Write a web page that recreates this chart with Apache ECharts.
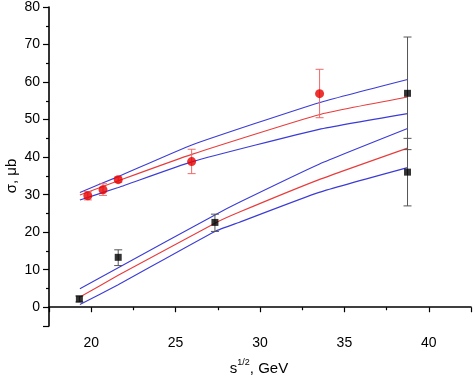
<!DOCTYPE html>
<html><head><meta charset="utf-8">
<script src="https://cdn.jsdelivr.net/npm/echarts@6/dist/echarts.min.js"></script>
<style>html,body{margin:0;padding:0;background:#fff}#c{width:474px;height:377px}</style>
</head><body><div id="c"></div>
<script>
// Red circles: x, y, lower, upper
const redX = [19.8, 20.7, 21.6, 25.95, 33.53];
const redY = [29.7, 31.3, 34.0, 38.8, 56.9];
const redLo = [28.6, 29.8, 33.3, 35.6, 50.5];
const redHi = [30.8, 32.9, 34.7, 42.1, 63.4];
// Black squares
const blkX = [19.3, 21.6, 27.33, 38.74, 38.74];
const blkY = [2.2, 13.3, 22.6, 57.0, 36.0];
const blkLo = [1.4, 11.1, 20.2, 42.0, 27.0];
const blkHi = [3.0, 15.3, 24.8, 72.0, 45.0];
// Upper band curves
const upX = [19.33, 21.6, 26.0, 33.5, 38.74];
const upHigh = [30.6, 34.8, 43.3, 54.5, 60.7];
const upMid = [29.9, 33.7, 40.8, 51.3, 56.0];
const upLow = [28.6, 31.9, 38.8, 47.4, 51.6];
// Lower band curves
const lowX = [19.33, 21.6, 27.33, 28.75, 33.5, 38.74];
const lowHigh = [4.9, 10.5, 24.6, 27.9, 38.1, 47.6];
const lowMid = [2.7, 8.5, 22.4, 25.3, 34.0, 42.4];
const lowLow = [0.7, 6.0, 20.2, 22.6, 30.6, 37.2];

const zip = (xs, ys) => xs.map((x, i) => [x, ys[i]]);
const BLUE = '#3b3bd6', RED = '#e83c3c';

function errRender(color) {
  return function (params, api) {
    const x = api.value(0), lo = api.value(2), hi = api.value(3);
    const p1 = api.coord([x, lo]), p2 = api.coord([x, hi]);
    const w = 4, st = {stroke: color, lineWidth: 1};
    return {type: 'group', children: [
      {type: 'line', shape: {x1: p1[0], y1: p1[1], x2: p2[0], y2: p2[1]}, style: st},
      {type: 'line', shape: {x1: p1[0] - w, y1: p1[1], x2: p1[0] + w, y2: p1[1]}, style: st},
      {type: 'line', shape: {x1: p2[0] - w, y1: p2[1], x2: p2[0] + w, y2: p2[1]}, style: st}
    ]};
  };
}
function lineSeries(xs, ys, color) {
  return {type: 'line', data: zip(xs, ys), showSymbol: false, symbol: 'none', smooth: 0.15,
    lineStyle: {color: color, width: 1.1}, z: 2, animation: false, silent: true};
}

const chart = echarts.init(document.getElementById('c'), null, {renderer: 'canvas'});
const FONT = 'Liberation Sans, Arial';
chart.setOption({
  animation: false,
  backgroundColor: '#fff',
  grid: {left: 49, right: 1, top: 6, bottom: 51, containLabel: false},
  xAxis: {
    type: 'value', min: 17.5, max: 42.5, splitNumber: 5,
    axisLine: {lineStyle: {color: '#000', width: 1.6}},
    axisTick: {inside: false, length: 5, lineStyle: {color: '#000', width: 1.2}},
    minorTick: {show: true, splitNumber: 2, length: 3, lineStyle: {color: '#000', width: 1.2}},
    splitLine: {show: false},
    axisLabel: {color: '#000', fontSize: 14, fontFamily: FONT, margin: 10,
      formatter: v => (Math.abs(v % 5) < 1e-9) ? String(v) : ''}
  },
  yAxis: {
    type: 'value', min: -5, max: 80, splitNumber: 8,
    axisLine: {lineStyle: {color: '#000', width: 1.6}},
    axisTick: {inside: false, length: 6, lineStyle: {color: '#000', width: 1.2}},
    minorTick: {show: true, splitNumber: 2, length: 3, lineStyle: {color: '#000', width: 1.2}},
    splitLine: {show: false},
    axisLabel: {color: '#000', fontSize: 14, fontFamily: FONT, margin: 9,
      formatter: v => (Math.abs(v % 10) < 1e-9) ? String(v) : ''}
  },
  graphic: [
    {type: 'text', x: 12, y: 176, rotation: Math.PI / 2,
      style: {text: 'σ, μb', fontSize: 15, fontFamily: FONT, fill: '#000',
        align: 'center', verticalAlign: 'middle'}},
    {type: 'text', x: 259, y: 367,
      style: {text: '{a|s}{b|1/2}{a|, GeV}', fill: '#000', align: 'center', verticalAlign: 'middle',
        rich: {a: {fontSize: 15, fontFamily: FONT, lineHeight: 18, verticalAlign: 'bottom'},
               b: {fontSize: 9, fontFamily: FONT, lineHeight: 18, verticalAlign: 'top'}}}}
  ],
  series: [
    lineSeries(upX, upHigh, BLUE), lineSeries(upX, upMid, RED), lineSeries(upX, upLow, BLUE),
    lineSeries(lowX, lowHigh, BLUE), lineSeries(lowX, lowMid, RED), lineSeries(lowX, lowLow, BLUE),
    {type: 'custom', renderItem: errRender('#ee6a6a'), encode: {x: 0, y: [2, 3]}, z: 3,
      data: redX.map((x, i) => [x, redY[i], redLo[i], redHi[i]])},
    {type: 'custom', renderItem: errRender('#555'), encode: {x: 0, y: [2, 3]}, z: 3,
      data: blkX.map((x, i) => [x, blkY[i], blkLo[i], blkHi[i]])},
    {type: 'scatter', data: zip(redX, redY), symbol: 'circle', symbolSize: 9,
      itemStyle: {color: '#e60000'}, z: 4},
    {type: 'scatter', data: zip(blkX, blkY), symbol: 'rect', symbolSize: 7,
      itemStyle: {color: '#000'}, z: 4}
  ]
});
</script></body></html>
